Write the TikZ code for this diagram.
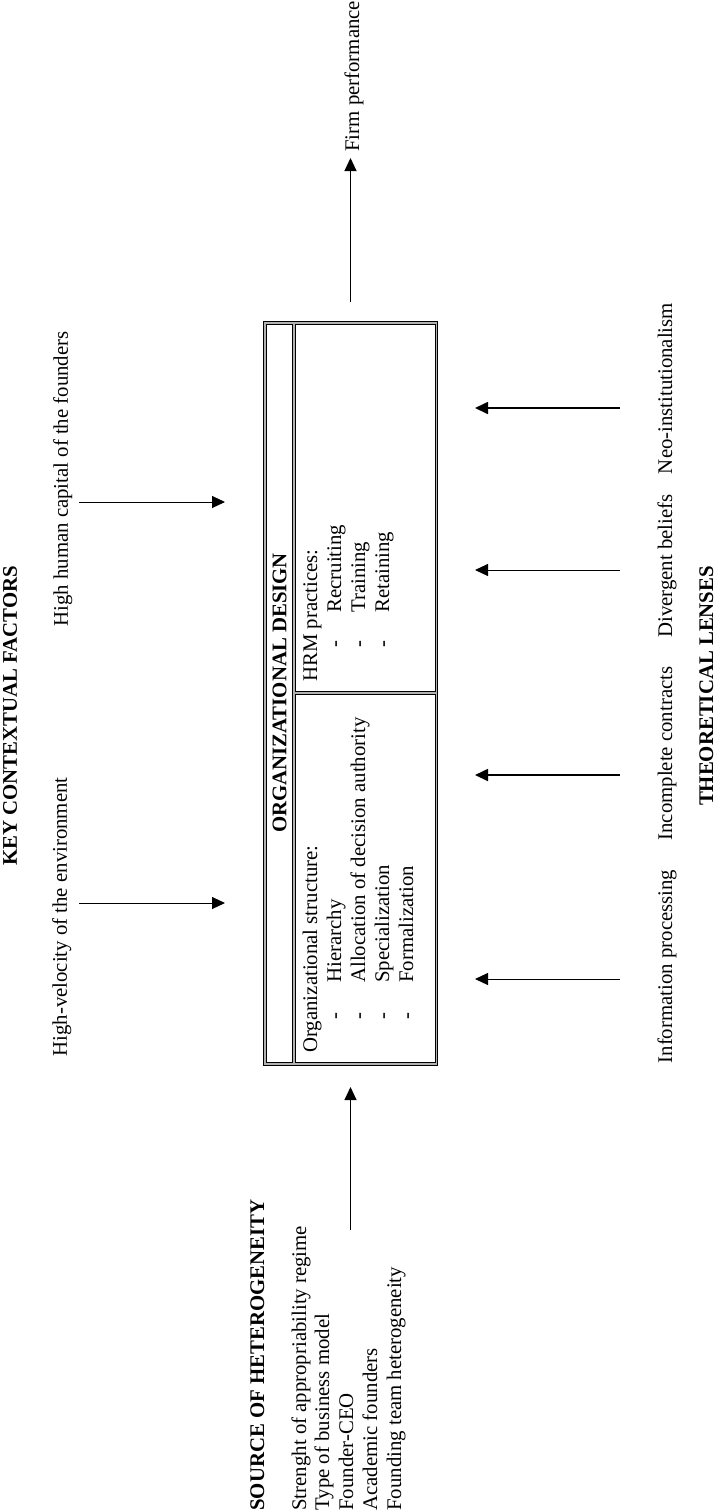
\documentclass[tikz,border=0pt]{standalone}
\usepackage{fontspec}
\setmainfont{Liberation Serif}
\usetikzlibrary{arrows.meta}
\begin{document}
\begin{tikzpicture}[x=0.5pt,y=-0.5pt,
  txt/.style={rotate=90, inner sep=0pt, font=\fontsize{10.4}{12}\selectfont},
  hd/.style={rotate=90, inner sep=0pt, font=\fontsize{10.4}{12}\selectfont\bfseries},
  arr/.style={-{Triangle[length=6.5pt,width=6pt]}, line width=0.5pt},
  thickarr/.style={arr, line width=0.85pt},
  frameouter/.style={draw=black, line width=1.7pt, line cap=rect},
  frameinner/.style={draw=black!30, line width=0.55pt, line cap=rect}]
\useasboundingbox (0,0) rectangle (716,1512);

% key contextual factors
\node[hd, anchor=base] (kcf) at (17,716) {KEY CONTEXTUAL FACTORS};
\node[txt, anchor=base] (hv) at (67,917) {High-velocity of the environment};
\node[txt, anchor=base] (hh) at (68,479) {High human capital of the founders};
\coordinate (hvs) at (79,903); \coordinate (hvt) at (225,903);
\coordinate (hhs) at (79,502); \coordinate (hht) at (225,502);
\draw[arr] (hvs) -- (hvt);
\draw[arr] (hhs) -- (hht);

% organizational design box (double-line frame)
\coordinate (bnw) at (265,323); \coordinate (bse) at (436.5,1064);
\coordinate (sepT) at (294,323); \coordinate (sepB) at (294,1064);
\coordinate (divL) at (294,693); \coordinate (divR) at (436.5,693);
\draw[frameouter] (bnw) rectangle (bse);
\draw[frameouter] (sepT) -- (sepB);
\draw[frameouter] (divL) -- (divR);
\draw[frameinner] (bnw) rectangle (bse);
\draw[frameinner] (sepT) -- (sepB);
\draw[frameinner] (divL) -- (divR);
\node[hd] (odt) at (279.5,693) {ORGANIZATIONAL DESIGN};

% HRM practices
\node[txt, anchor=base west] (hrm) at (317,682) {HRM practices:};
\node[txt, anchor=base] (hd1) at (341,644) {-};
\node[txt, anchor=base west] (hi1) at (341,613) {Recruiting};
\node[txt, anchor=base] (hd2) at (365,644) {-};
\node[txt, anchor=base west] (hi2) at (365,613) {Training};
\node[txt, anchor=base] (hd3) at (389,644) {-};
\node[txt, anchor=base west] (hi3) at (389,613) {Retaining};

% Organizational structure
\node[txt, anchor=base west] (os) at (317,1053) {Organizational structure:};
\node[txt, anchor=base] (od1) at (341,1016) {-};
\node[txt, anchor=base west] (oi1) at (341,983) {Hierarchy};
\node[txt, anchor=base] (od2) at (365,1016) {-};
\node[txt, anchor=base west] (oi2) at (365,983) {Allocation of decision authority};
\node[txt, anchor=base] (od3) at (389,1016) {-};
\node[txt, anchor=base west] (oi3) at (389,983) {Specialization};
\node[txt, anchor=base] (od4) at (413,1016) {-};
\node[txt, anchor=base west] (oi4) at (413,983) {Formalization};

% firm performance
\node[txt, anchor=base west] (fp) at (359,152) {Firm performance};
\coordinate (fps) at (350.5,302); \coordinate (fpt) at (350.5,158);
\draw[arr] (fps) -- (fpt);

% source of heterogeneity
\node[hd, anchor=base west] (soh) at (264,1511) {SOURCE OF HETEROGENEITY};
\node[txt, anchor=base west] (s1) at (306,1511) {Strenght of appropriability regime};
\node[txt, anchor=base west] (s2) at (329,1511) {Type of business model};
\node[txt, anchor=base west] (s3) at (353,1511) {Founder-CEO};
\node[txt, anchor=base west] (s4) at (377,1511) {Academic founders};
\node[txt, anchor=base west] (s5) at (401,1511) {Founding team heterogeneity};
\coordinate (shs) at (350.5,1230); \coordinate (sht) at (350.5,1087);
\draw[arr] (shs) -- (sht);

% theoretical lenses
\node[txt, anchor=base] (l1) at (672,388.5) {Neo-institutionalism};
\node[txt, anchor=base] (l2) at (672,566) {Divergent beliefs};
\node[txt, anchor=base] (l3) at (672,753.5) {Incomplete contracts};
\node[txt, anchor=base] (l4) at (672,966.5) {Information processing};
\node[hd, anchor=base] (tl) at (713,686) {THEORETICAL LENSES};
\coordinate (a1s) at (620,408); \coordinate (a1t) at (475,408);
\coordinate (a2s) at (620,570); \coordinate (a2t) at (475,570);
\coordinate (a3s) at (620,775); \coordinate (a3t) at (475,775);
\coordinate (a4s) at (620,979); \coordinate (a4t) at (475,979);
\draw[thickarr] (a1s) -- (a1t);
\draw[arr] (a2s) -- (a2t);
\draw[thickarr] (a3s) -- (a3t);
\draw[arr] (a4s) -- (a4t);
\end{tikzpicture}
\end{document}
